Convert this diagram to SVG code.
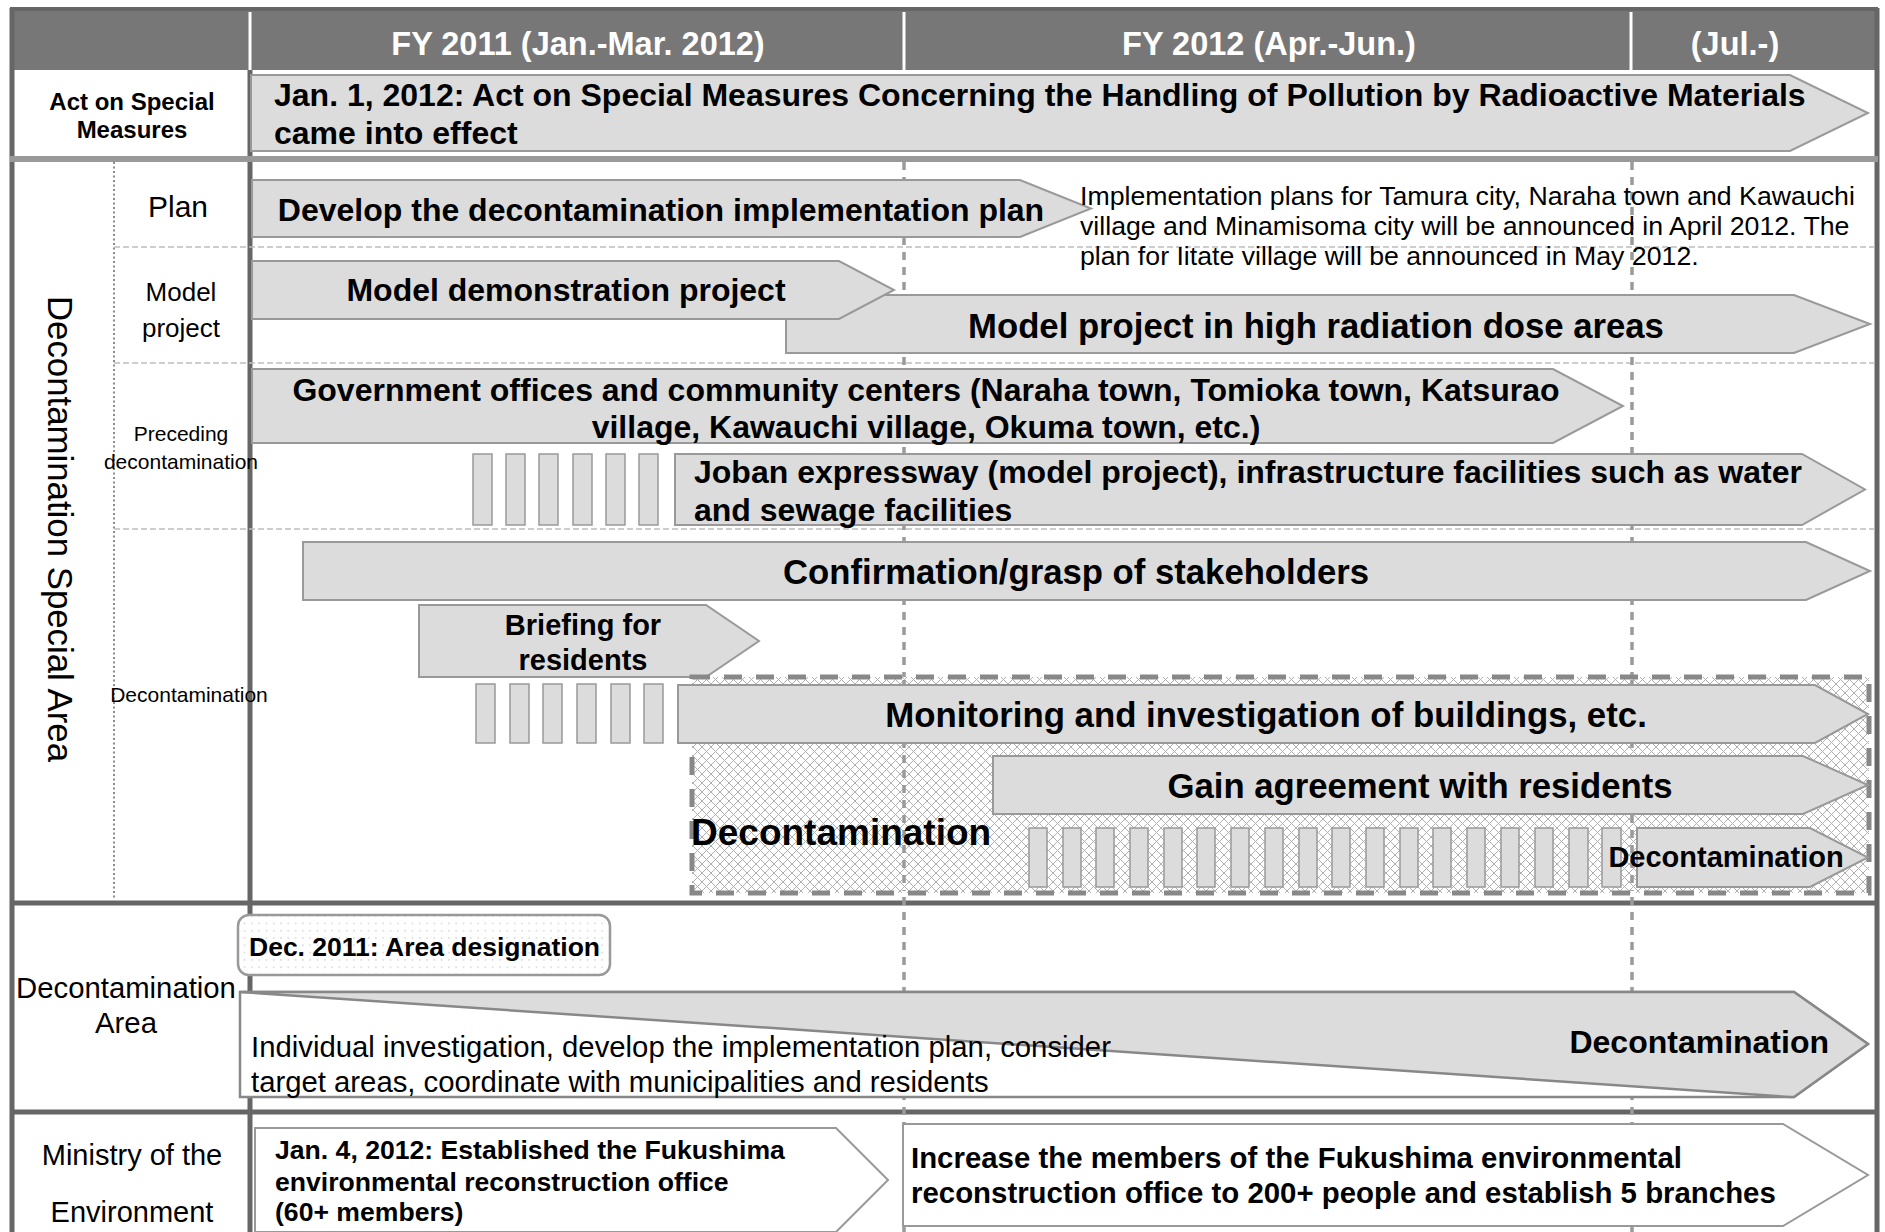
<svg xmlns="http://www.w3.org/2000/svg" width="1885" height="1232" viewBox="0 0 1885 1232">
<style>
.t{font-family:"Liberation Sans",Arial,sans-serif;fill:#000}
.b{font-weight:bold}
.hd{font-family:"Liberation Sans",Arial,sans-serif;font-weight:bold;fill:#fff;font-size:32.5px}
.ar{fill:#dcdcdc;stroke:#999;stroke-width:2}
.aw{fill:#fff;stroke:#999;stroke-width:2}
.bar{fill:#dcdcdc;stroke:#999;stroke-width:1.5}
.dash{stroke:#bdbdbd;stroke-width:1.5;stroke-dasharray:6 3;fill:none}
.grid{stroke:#9a9a9a;stroke-width:3.5;stroke-dasharray:8 7;fill:none}
.sep{stroke:#666;stroke-width:5;fill:none}
</style>
<defs>
<pattern id="hatch" width="9" height="9" patternUnits="userSpaceOnUse">
<rect width="9" height="9" fill="#fff"/>
<path d="M0,0 L9,9 M9,0 L0,9" stroke="#b0b0b0" stroke-width="1"/>
</pattern>
<pattern id="dots" width="7.3" height="7.3" patternUnits="userSpaceOnUse">
<rect width="7.3" height="7.3" fill="#fff"/>
<circle cx="3.6" cy="3.6" r="0.8" fill="#d0d0d0"/>
</pattern>
</defs>
<rect width="1885" height="1232" fill="#fff"/>

<g id="frame">
<rect x="10" y="9" width="1868" height="61" fill="#777"/>
<line x1="250" y1="12" x2="250" y2="70" stroke="#fff" stroke-width="3"/>
<line x1="904" y1="12" x2="904" y2="70" stroke="#fff" stroke-width="3"/>
<line x1="1631" y1="12" x2="1631" y2="70" stroke="#fff" stroke-width="3"/>
<line x1="10" y1="9" x2="1878" y2="9" stroke="#666" stroke-width="4"/>
<line x1="12" y1="8" x2="12" y2="1232" stroke="#666" stroke-width="5"/>
<line x1="1877" y1="8" x2="1877" y2="1232" stroke="#666" stroke-width="5"/>
<line x1="250" y1="70" x2="250" y2="1232" stroke="#666" stroke-width="5"/>
<line x1="10" y1="159" x2="1878" y2="159" stroke="#999" stroke-width="6"/>
<line class="sep" x1="10" y1="903" x2="1878" y2="903"/>
<line class="sep" x1="10" y1="1112" x2="1878" y2="1112"/>
<line x1="114" y1="162" x2="114" y2="900" stroke="#666" stroke-width="1.5" stroke-dasharray="2 2.5"/>
<line class="dash" x1="114" y1="247" x2="1875" y2="247"/>
<line class="dash" x1="114" y1="363" x2="1875" y2="363"/>
<line class="dash" x1="114" y1="529" x2="1875" y2="529"/>
</g>

<g id="gridlines">
<line class="grid" x1="904" y1="162" x2="904" y2="1232"/>
<line class="grid" x1="1632" y1="162" x2="1632" y2="1232"/>
</g>

<g id="header">
<text class="hd" x="578" y="55" text-anchor="middle">FY 2011 (Jan.-Mar. 2012)</text>
<text class="hd" x="1269" y="55" text-anchor="middle">FY 2012 (Apr.-Jun.)</text>
<text class="hd" x="1735" y="55" text-anchor="middle">(Jul.-)</text>
</g>

<g id="row-labels">
<text class="t b" font-size="24" x="132" y="110" text-anchor="middle">Act on Special</text>
<text class="t b" font-size="24" x="132" y="138" text-anchor="middle">Measures</text>
<text class="t" font-size="34.8" transform="translate(60,529) rotate(90)" y="12" text-anchor="middle">Decontamination Special Area</text>
<text class="t" font-size="30" x="178" y="217" text-anchor="middle">Plan</text>
<text class="t" font-size="26" x="181" y="301" text-anchor="middle">Model</text>
<text class="t" font-size="26" x="181" y="337" text-anchor="middle">project</text>
<text class="t" font-size="21" x="181" y="441" text-anchor="middle">Preceding</text>
<text class="t" font-size="21" x="181" y="469" text-anchor="middle">decontamination</text>
<text class="t" font-size="21" x="189" y="702" text-anchor="middle">Decontamination</text>
<text class="t" font-size="29.3" x="126" y="998" text-anchor="middle">Decontamination</text>
<text class="t" font-size="29.3" x="126" y="1033" text-anchor="middle">Area</text>
<text class="t" font-size="29" x="132" y="1165" text-anchor="middle">Ministry of the</text>
<text class="t" font-size="29" x="132" y="1222" text-anchor="middle">Environment</text>
</g>

<g id="act">
<polygon class="ar" points="251,75 1790,75 1868,113 1790,151 251,151"/>
<text class="t b" font-size="32" x="274" y="106">Jan. 1, 2012: Act on Special Measures Concerning the Handling of Pollution by Radioactive Materials</text>
<text class="t b" font-size="32" x="274" y="144">came into effect</text>
</g>

<g id="plan">
<polygon class="ar" points="252,180 1020,180 1091,208.5 1020,237 252,237"/>
<text class="t b" font-size="32" x="661" y="221" text-anchor="middle">Develop the decontamination implementation plan</text>
</g>

<g id="plan-note">
<text class="t" font-size="26.7" x="1080" y="205">Implementation plans for Tamura city, Naraha town and Kawauchi</text>
<text class="t" font-size="26.7" x="1080" y="235">village and Minamisoma city will be announced in April 2012. The</text>
<text class="t" font-size="26.7" x="1080" y="265">plan for Iitate village will be announced in May 2012.</text>
</g>

<g id="model-high">
<polygon class="ar" points="786,295 1794,295 1870,324 1794,353 786,353"/>
<text class="t b" font-size="34.7" x="1316" y="338" text-anchor="middle">Model project in high radiation dose areas</text>
</g>

<g id="model-demo">
<polygon class="ar" points="252,261 839,261 894,290 839,319 252,319"/>
<text class="t b" font-size="32" x="566" y="301" text-anchor="middle">Model demonstration project</text>
</g>

<g id="gov-offices">
<polygon class="ar" points="252,369 1553,369 1623,406 1553,443 252,443"/>
<text class="t b" font-size="32" x="926" y="401" text-anchor="middle">Government offices and community centers (Naraha town, Tomioka town, Katsurao</text>
<text class="t b" font-size="32" x="926" y="438" text-anchor="middle">village, Kawauchi village, Okuma town, etc.)</text>
</g>

<g id="preceding-bars">
<rect class="bar" x="473" y="454" width="19" height="71"/>
<rect class="bar" x="506" y="454" width="19" height="71"/>
<rect class="bar" x="539" y="454" width="19" height="71"/>
<rect class="bar" x="573" y="454" width="19" height="71"/>
<rect class="bar" x="606" y="454" width="19" height="71"/>
<rect class="bar" x="639" y="454" width="19" height="71"/>
</g>

<g id="joban">
<polygon class="ar" points="675,454 1802,454 1865,489.5 1802,525 675,525"/>
<text class="t b" font-size="32" x="694" y="483">Joban expressway (model project), infrastructure facilities such as water</text>
<text class="t b" font-size="32" x="694" y="521">and sewage facilities</text>
</g>

<g id="confirmation">
<polygon class="ar" points="303,542 1806,542 1870,571 1806,600 303,600"/>
<text class="t b" font-size="34.7" x="1076" y="584" text-anchor="middle">Confirmation/grasp of stakeholders</text>
</g>

<g id="briefing">
<polygon class="ar" points="419,605 706,605 759,641 706,677 419,677"/>
<text class="t b" font-size="29" x="583" y="635" text-anchor="middle">Briefing for</text>
<text class="t b" font-size="29" x="583" y="670" text-anchor="middle">residents</text>
</g>

<g id="decontamination-zone">
<rect x="692" y="677" width="1177" height="216" fill="url(#hatch)" stroke="#888" stroke-width="5" stroke-dasharray="18 14"/>
<line class="grid" x1="904" y1="680" x2="904" y2="891"/>
<line class="grid" x1="1632" y1="680" x2="1632" y2="891"/>
<text class="t b" font-size="37" x="691" y="845">Decontamination</text>
</g>

<g id="decon-bars">
<rect class="bar" x="476" y="684" width="19" height="59"/>
<rect class="bar" x="510" y="684" width="19" height="59"/>
<rect class="bar" x="543" y="684" width="19" height="59"/>
<rect class="bar" x="577" y="684" width="19" height="59"/>
<rect class="bar" x="611" y="684" width="19" height="59"/>
<rect class="bar" x="644" y="684" width="19" height="59"/>
</g>

<g id="monitoring">
<polygon class="ar" points="678,685 1815,685 1868,714 1815,743 678,743"/>
<text class="t b" font-size="34.8" x="1266" y="727" text-anchor="middle">Monitoring and investigation of buildings, etc.</text>
</g>

<g id="agreement">
<polygon class="ar" points="993,756 1803,756 1868,785 1803,814 993,814"/>
<text class="t b" font-size="34.7" x="1420" y="798" text-anchor="middle">Gain agreement with residents</text>
</g>

<g id="work-bars">
<rect class="bar" x="1029" y="828" width="18" height="59"/>
<rect class="bar" x="1063" y="828" width="18" height="59"/>
<rect class="bar" x="1096" y="828" width="18" height="59"/>
<rect class="bar" x="1130" y="828" width="18" height="59"/>
<rect class="bar" x="1164" y="828" width="18" height="59"/>
<rect class="bar" x="1197" y="828" width="18" height="59"/>
<rect class="bar" x="1231" y="828" width="18" height="59"/>
<rect class="bar" x="1265" y="828" width="18" height="59"/>
<rect class="bar" x="1299" y="828" width="18" height="59"/>
<rect class="bar" x="1332" y="828" width="18" height="59"/>
<rect class="bar" x="1366" y="828" width="18" height="59"/>
<rect class="bar" x="1400" y="828" width="18" height="59"/>
<rect class="bar" x="1433" y="828" width="18" height="59"/>
<rect class="bar" x="1467" y="828" width="18" height="59"/>
<rect class="bar" x="1501" y="828" width="18" height="59"/>
<rect class="bar" x="1535" y="828" width="18" height="59"/>
<rect class="bar" x="1569" y="828" width="19" height="59"/>
<rect class="bar" x="1602" y="828" width="19" height="59"/>
</g>

<g id="decon-small">
<polygon class="ar" points="1637,828 1810,828 1868,857.5 1810,887 1637,887"/>
<text class="t b" font-size="29" x="1726" y="867" text-anchor="middle">Decontamination</text>
</g>

<g id="area-designation">
<rect x="238" y="915" width="372" height="60" rx="11" fill="url(#dots)" stroke="#999" stroke-width="2.5"/>
<text class="t b" font-size="26.5" x="249" y="956">Dec. 2011: Area designation</text>
</g>

<g id="area-wedge">
<polygon points="240,992 1794,992 1868,1044 1794,1097 240,1097" fill="#fff" stroke="#888" stroke-width="2.5"/>
<polygon points="240,992 1794,992 1868,1044 1794,1097 1790,1097" fill="#dcdcdc" stroke="#888" stroke-width="2.5" stroke-linejoin="round"/>
<text class="t b" font-size="32" x="1829" y="1053" text-anchor="end">Decontamination</text>
<text class="t" font-size="29.3" x="251" y="1057">Individual investigation, develop the implementation plan, consider</text>
<text class="t" font-size="29.3" x="251" y="1092">target areas, coordinate with municipalities and residents</text>
</g>

<g id="office-established">
<polygon class="aw" points="255,1128 836,1128 888,1180 836,1232 255,1232"/>
<text class="t b" font-size="26.6" x="275" y="1159">Jan. 4, 2012: Established the Fukushima</text>
<text class="t b" font-size="26.6" x="275" y="1191">environmental reconstruction office</text>
<text class="t b" font-size="26.6" x="275" y="1221">(60+ members)</text>
</g>

<g id="office-increase">
<polygon class="aw" points="903,1124 1783,1124 1868,1175 1783,1226 903,1226"/>
<text class="t b" font-size="29.4" x="911" y="1168">Increase the members of the Fukushima environmental</text>
<text class="t b" font-size="29.4" x="911" y="1203">reconstruction office to 200+ people and establish 5 branches</text>
</g>
</svg>
